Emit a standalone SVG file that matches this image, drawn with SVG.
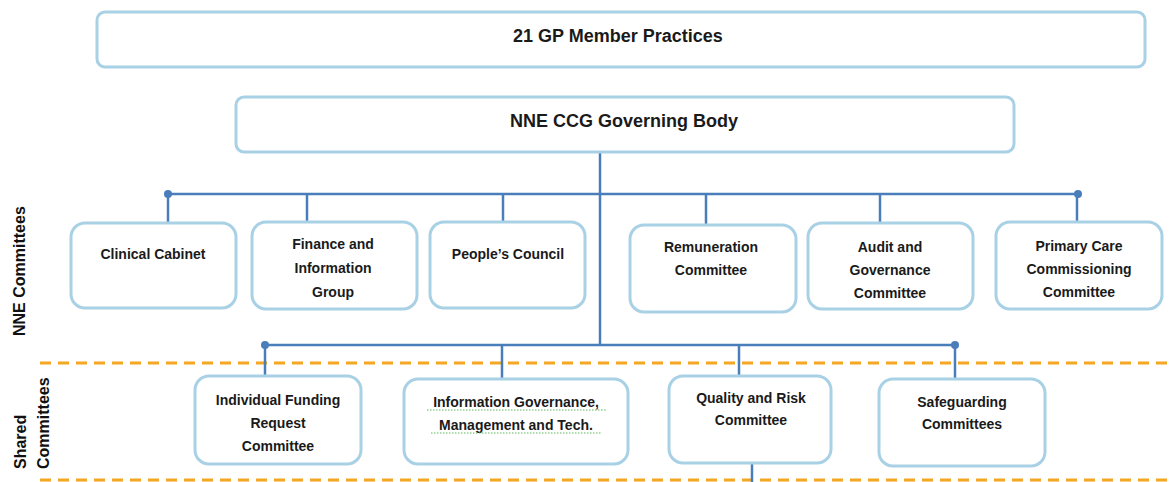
<svg xmlns="http://www.w3.org/2000/svg" width="1174" height="482" viewBox="0 0 1174 482">
  <style>
    .box { fill: #ffffff; stroke: #a9d1e5; stroke-width: 3; }
    .lbl { font-family: "Liberation Sans", Arial, sans-serif; font-weight: bold; font-size: 14px; fill: #1a1a1a; text-anchor: middle; }
    .big { font-size: 18px; }
    .side { font-family: "Liberation Sans", Arial, sans-serif; font-weight: bold; font-size: 16px; fill: #111111; }
    .link { fill: none; stroke: #4a7ebb; stroke-width: 2.5; }
    .dot { fill: #4a7ebb; }
    .band { stroke: #f5a623; stroke-width: 3; stroke-dasharray: 11 7; }
    .squiggle { fill: none; stroke: #5cb85c; stroke-width: 1; stroke-dasharray: 1.5 1.5; }
  </style>

  <rect width="1174" height="482" fill="#ffffff"/>

  <!-- section bands -->
  <g id="bands">
    <line class="band" x1="40" y1="363" x2="1174" y2="363"/>
    <line class="band" x1="40" y1="480" x2="1174" y2="480"/>
  </g>

  <!-- section labels -->
  <g id="section-labels">
    <text class="side" transform="translate(25,336) rotate(-90)">NNE Committees</text>
    <text class="side" transform="translate(26,469) rotate(-90)">Shared</text>
    <text class="side" transform="translate(49,469) rotate(-90)">Committees</text>
  </g>

  <!-- connectors -->
  <g id="connectors">
    <line class="link" x1="600" y1="152" x2="600" y2="345"/>
    <line class="link" x1="168" y1="194" x2="1078" y2="194"/>
    <line class="link" x1="168" y1="194" x2="168" y2="223"/>
    <line class="link" x1="307" y1="194" x2="307" y2="222"/>
    <line class="link" x1="503" y1="194" x2="503" y2="222"/>
    <line class="link" x1="706" y1="194" x2="706" y2="225"/>
    <line class="link" x1="880" y1="194" x2="880" y2="223"/>
    <line class="link" x1="1077" y1="194" x2="1077" y2="222"/>
    <circle class="dot" cx="168" cy="194" r="4"/>
    <circle class="dot" cx="1078" cy="194" r="4"/>

    <line class="link" x1="265" y1="345" x2="955" y2="345"/>
    <line class="link" x1="265" y1="345" x2="265" y2="376"/>
    <line class="link" x1="502" y1="345" x2="502" y2="379"/>
    <line class="link" x1="739" y1="345" x2="739" y2="376"/>
    <line class="link" x1="955" y1="345" x2="955" y2="379"/>
    <circle class="dot" cx="265" cy="345" r="4"/>
    <circle class="dot" cx="955" cy="345" r="4"/>

    <line class="link" x1="752" y1="463" x2="752" y2="482"/>
  </g>

  <!-- top level -->
  <g id="member-practices">
    <rect class="box" x="97" y="12" width="1048" height="55" rx="8"/>
    <text class="lbl big" x="618" y="42">21 GP Member Practices</text>
  </g>
  <g id="governing-body">
    <rect class="box" x="236" y="97" width="778" height="55" rx="8"/>
    <text class="lbl big" x="624" y="127">NNE CCG Governing Body</text>
  </g>

  <!-- NNE committees -->
  <g id="clinical-cabinet">
    <rect class="box" x="71" y="223" width="165" height="85" rx="14"/>
    <text class="lbl" x="153" y="259">Clinical Cabinet</text>
  </g>
  <g id="finance-information">
    <rect class="box" x="252" y="222" width="165" height="87" rx="14"/>
    <text class="lbl" x="333" y="249">Finance and</text>
    <text class="lbl" x="333" y="273">Information</text>
    <text class="lbl" x="333" y="297">Group</text>
  </g>
  <g id="peoples-council">
    <rect class="box" x="430" y="222" width="155" height="86" rx="14"/>
    <text class="lbl" x="508" y="259">People’s Council</text>
  </g>
  <g id="remuneration">
    <rect class="box" x="630" y="225" width="166" height="87" rx="14"/>
    <text class="lbl" x="711" y="252">Remuneration</text>
    <text class="lbl" x="711" y="275">Committee</text>
  </g>
  <g id="audit-governance">
    <rect class="box" x="808" y="223" width="165" height="86" rx="14"/>
    <text class="lbl" x="890" y="252">Audit and</text>
    <text class="lbl" x="890" y="275">Governance</text>
    <text class="lbl" x="890" y="298">Committee</text>
  </g>
  <g id="primary-care">
    <rect class="box" x="996" y="222" width="166" height="87" rx="14"/>
    <text class="lbl" x="1079" y="251">Primary Care</text>
    <text class="lbl" x="1079" y="274">Commissioning</text>
    <text class="lbl" x="1079" y="297">Committee</text>
  </g>

  <!-- shared committees -->
  <g id="individual-funding">
    <rect class="box" x="195" y="376" width="166" height="88" rx="14"/>
    <text class="lbl" x="278" y="405">Individual Funding</text>
    <text class="lbl" x="278" y="428">Request</text>
    <text class="lbl" x="278" y="451">Committee</text>
  </g>
  <g id="information-governance">
    <rect class="box" x="404" y="379" width="224" height="85" rx="14"/>
    <text class="lbl" x="516" y="407">Information Governance,</text>
    <text class="lbl" x="516" y="430">Management and Tech.</text>
    <path class="squiggle" d="M427 410 H606 M431 433 H602"/>
  </g>
  <g id="quality-risk">
    <rect class="box" x="669" y="376" width="162" height="87" rx="14"/>
    <text class="lbl" x="751" y="403">Quality and Risk</text>
    <text class="lbl" x="751" y="425">Committee</text>
  </g>
  <g id="safeguarding">
    <rect class="box" x="879" y="379" width="166" height="87" rx="14"/>
    <text class="lbl" x="962" y="407">Safeguarding</text>
    <text class="lbl" x="962" y="429">Committees</text>
  </g>
</svg>
